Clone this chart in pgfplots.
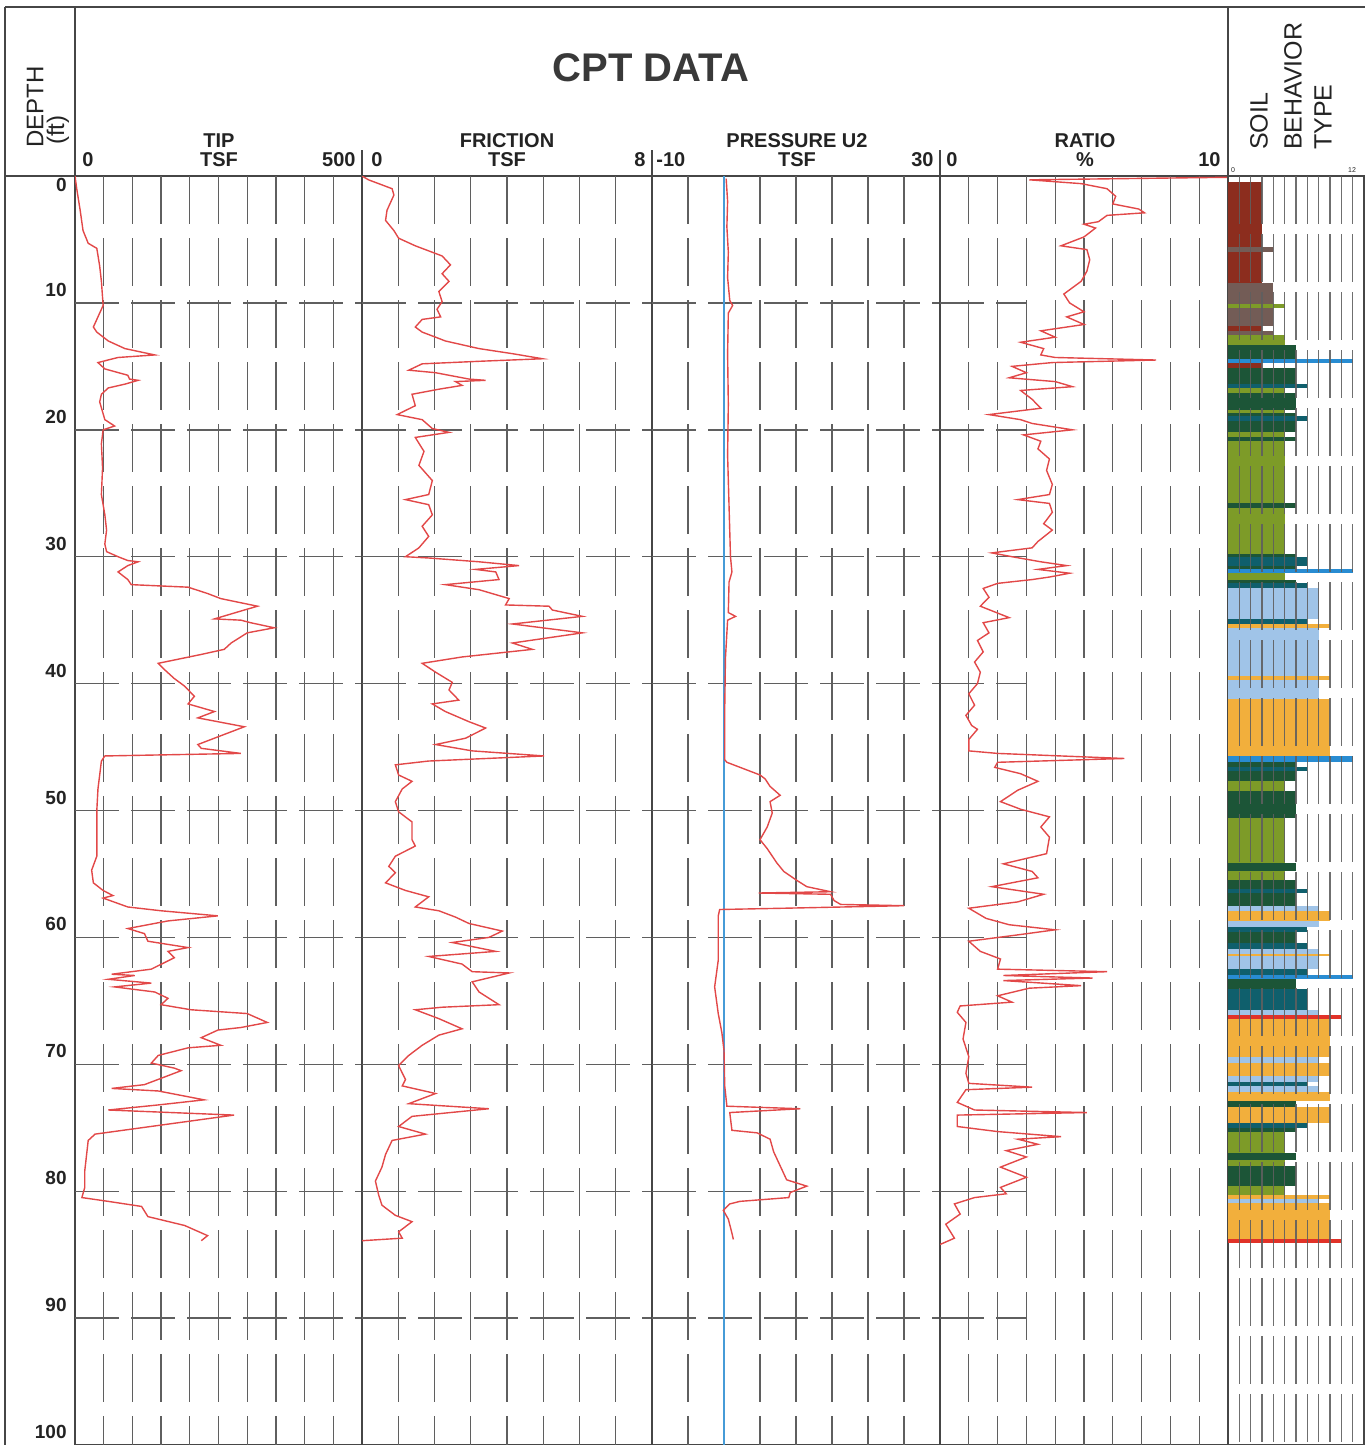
\documentclass[border=0pt]{standalone}
\usepackage{pgfplots}
\pgfplotsset{compat=1.18}
\usepackage{fontspec}
\setmainfont{Liberation Sans}
\definecolor{trace}{RGB}{226,72,72}
\definecolor{uzero}{RGB}{70,155,215}
\definecolor{gl}{RGB}{95,95,95}
\definecolor{frm}{RGB}{70,70,70}
\definecolor{txt}{RGB}{35,35,35}
\definecolor{zC}{RGB}{140,45,30}
\definecolor{zD}{RGB}{115,92,86}
\definecolor{zE}{RGB}{125,155,40}
\definecolor{zF}{RGB}{28,85,55}
\definecolor{zG}{RGB}{15,95,108}
\definecolor{zH}{RGB}{160,196,232}
\definecolor{zI}{RGB}{242,175,60}
\definecolor{zJ}{RGB}{225,50,40}
\definecolor{zK}{RGB}{40,140,210}
\tikzset{vgrid/.style={draw=gl, line width=0.65pt, dash pattern=on 24pt off 7pt},
         hgrid/.style={draw=gl, line width=0.7pt, dash pattern=on 22pt off 6pt},
         hl/.style={font=\bfseries\fontsize{10}{12}\selectfont, text=txt, inner sep=0pt}}
\pgfplotsset{panel/.style={scale only axis, height=634.5pt, y dir=reverse, ymin=0, ymax=100,
   axis line style={draw=frm, line width=0.7pt}, ticks=none, anchor=north west},
   trc/.style={color=trace, line width=0.7pt, mark=none}}
\newcommand{\sbt}[4]{\addplot[fill=#1,draw=none,forget plot] coordinates {(0,#3) (#2,#3) (#2,#4) (0,#4)};}
\begin{document}
\begin{tikzpicture}
\useasboundingbox (0,0) rectangle (682.5pt,-722.5pt);
% frame of header
\draw[frm, line width=0.7pt] (2.5pt,-3.5pt) -- (682.5pt,-3.5pt);
\draw[frm, line width=0.7pt] (2.5pt,-3.5pt) -- (2.5pt,-722.5pt);
\draw[frm, line width=0.7pt] (37.5pt,-3.5pt) -- (37.5pt,-88pt);
\draw[frm, line width=0.7pt] (614pt,-3.5pt) -- (614pt,-88pt);
\draw[frm, line width=0.7pt] (2.5pt,-88pt) -- (682.5pt,-88pt);
\foreach \xx in {181,326,470} {\draw[frm, line width=0.7pt] (\xx pt,-75pt) -- (\xx pt,-88pt);}
% header texts
\node[font=\bfseries\fontsize{20}{24}\selectfont, text=txt!90] at (325.5pt,-34pt) {CPT DATA};
\node[rotate=90, anchor=west, font=\fontsize{12}{14}\selectfont, text=txt] at (17.5pt,-77.5pt) {DEPTH};
\node[rotate=90, anchor=west, font=\fontsize{12}{14}\selectfont, text=txt] at (29pt,-76pt) {(ft)};
\node[hl] at (109.5pt,-70.5pt) {TIP};
\node[hl] at (109.5pt,-80pt) {TSF};
\node[hl] at (44pt,-80pt) {0};
\node[hl, anchor=east] at (178pt,-80pt) {500};
\node[hl] at (253.5pt,-70.5pt) {FRICTION};
\node[hl] at (253.5pt,-80pt) {TSF};
\node[hl] at (188.5pt,-80pt) {0};
\node[hl, anchor=east] at (323pt,-80pt) {8};
\node[hl] at (398.5pt,-70.5pt) {PRESSURE U2};
\node[hl] at (398.5pt,-80pt) {TSF};
\node[hl, anchor=west] at (328pt,-80pt) {-10};
\node[hl, anchor=east] at (467pt,-80pt) {30};
\node[hl] at (542.5pt,-70.5pt) {RATIO};
\node[hl] at (542.5pt,-80pt) {\%};
\node[hl] at (476pt,-80pt) {0};
\node[hl, anchor=east] at (610.5pt,-80pt) {10};
\node[rotate=90, anchor=west, font=\fontsize{12.5}{14}\selectfont, text=txt] at (629.5pt,-78.5pt) {SOIL};
\node[rotate=90, anchor=west, font=\fontsize{12.5}{14}\selectfont, text=txt] at (646.5pt,-78.5pt) {BEHAVIOR};
\node[rotate=90, anchor=west, font=\fontsize{12.5}{14}\selectfont, text=txt] at (661.5pt,-78.5pt) {TYPE};
\node[font=\fontsize{3.5}{4}\selectfont, text=txt] at (616.5pt,-85pt) {0};
\node[font=\fontsize{3.5}{4}\selectfont, text=txt] at (676pt,-85pt) {12};
% depth labels
\node[hl, font=\bfseries\fontsize{9.5}{11}\selectfont, anchor=east] at (33.5pt,-92.5pt) {0};
\foreach \dd in {10,20,...,100} {
  \pgfmathsetmacro{\yy}{-(176+12.69*\dd-13)/2}
  \node[hl, font=\bfseries\fontsize{9.5}{11}\selectfont, anchor=east] at (33.5pt,\yy pt) {\dd};
}

% ---------------- TIP ----------------
\begin{axis}[panel, at={(37.5pt,-88pt)}, width=143.5pt, xmin=0, xmax=500]
\pgfplotsinvokeforeach{50,100,...,450}{\draw[vgrid] (axis cs:#1,0) -- (axis cs:#1,100);}
\pgfplotsinvokeforeach{10,20,...,90}{\draw[hgrid] (axis cs:0,#1) -- (axis cs:500,#1);}
\addplot[trc] coordinates {
(0,0) (3,1) (9,2.7) (14,4.3) (23,5.3) (38,5.7) (43,7.1) (46,8.3) (49,10.2) (40,11.1) (32,11.9)
(38,12.3) (58,13) (87,13.6) (139,14.1) (75,14.3) (40,14.7) (52,15.2) (92,15.7) (95,16.0) (110,16.1)
(87,16.4) (58,16.7) (46,17.2) (43,17.8) (52,19.2) (69,19.7) (49,20) (46,21.1) (48,23) (46,25.1)
(52,26.7) (55,27.9) (52,29) (55,29.6) (75,30) (92,30.3) (110,30.4) (92,30.7) (75,31.2) (92,31.8)
(98,32.2) (197,32.4) (231,32.9) (254,33.3) (318,33.9) (295,34.2) (243,34.9) (289,35.0) (306,35.2)
(347,35.6) (300,36) (272,36.8) (260,37.3) (220,37.7) (145,38.4) (156,38.9) (173,39.6) (191,40.2)
(208,41) (197,41.6) (243,42.2) (214,42.7) (295,43.4) (214,44.8) (220,45.1) (289,45.5) (52,45.7)
(46,46.1) (40,48.3) (38,50) (38,53.6) (29,54.7) (32,55.7) (49,56.3) (66,56.7) (49,56.9) (92,57.6)
(150,57.9) (249,58.3) (162,58.7) (92,59.3) (121,59.7) (127,60.3) (197,60.8) (162,61.1) (173,61.6)
(133,62.5) (64,62.9) (104,63.0) (58,63.3) (133,63.6) (69,63.9) (139,64.3) (162,64.8) (150,65.3)
(202,65.7) (300,66) (335,66.7) (289,67.1) (249,67.3) (220,67.9) (254,68.5) (197,68.7) (145,69.3)
(133,69.9) (173,70.3) (185,70.5) (121,71.6) (64,71.9) (145,72.1) (225,72.8) (145,73.2) (58,73.6)
(277,74) (35,75.5) (23,76) (17,78.4) (17,79.7) (12,80.5) (58,80.8) (116,81.2) (127,82) (191,82.7)
(231,83.5) (220,83.9)
};
\end{axis}

% ---------------- FRICTION ----------------
\begin{axis}[panel, at={(181pt,-88pt)}, width=145pt, xmin=0, xmax=8]
\pgfplotsinvokeforeach{1,2,...,7}{\draw[vgrid] (axis cs:#1,0) -- (axis cs:#1,100);}
\pgfplotsinvokeforeach{10,20,...,90}{\draw[hgrid] (axis cs:0,#1) -- (axis cs:8,#1);}
\addplot[trc] coordinates {
(0.0,0) (0.18,0.3) (0.83,1) (0.88,1.5) (0.69,2.7) (0.65,3.5) (0.88,4.3) (1.01,4.9) (1.47,5.5)
(1.84,5.9) (2.21,6.3) (2.44,7) (2.21,7.7) (2.4,8.3) (2.12,9.1) (2.21,9.9) (2.07,10.5) (2.17,11.1)
(1.66,11.3) (1.47,11.9) (1.66,12.3) (2.03,12.7) (2.3,13) (3.23,13.6) (4.15,14) (4.98,14.4)
(3.23,14.6) (1.66,14.8) (1.29,15.3) (2.03,15.5) (2.95,16) (3.41,16.1) (2.58,16.2) (2.76,16.5)
(2.12,16.8) (1.38,17.2) (1.47,18.1) (0.97,18.8) (1.66,19.2) (1.94,19.9) (2.4,20.2) (1.47,20.6)
(1.71,21.7) (1.57,22.8) (1.94,24) (1.84,25.1) (1.2,25.5) (1.84,25.9) (1.94,26.7) (1.66,27.6)
(1.84,28.4) (1.57,29.3) (1.2,30) (1.84,30.1) (3.23,30.4) (4.33,30.7) (3.13,31) (3.69,31.2)
(3.78,31.8) (2.3,32.2) (3.23,32.6) (4.06,33.3) (3.96,33.8) (5.16,33.9) (5.25,34.2) (6.08,34.7)
(4.15,35.3) (6.08,36) (4.15,36.8) (4.7,37.3) (2.76,37.9) (1.66,38.4) (2.03,39.1) (2.49,39.9)
(2.4,40.5) (2.67,41.3) (1.94,41.6) (2.3,42.2) (2.95,43) (3.41,43.5) (2.86,44.3) (2.03,44.8)
(3.04,45.3) (5.02,45.7) (1.84,46.1) (0.92,46.4) (1.01,47.2) (1.38,47.7) (1.11,48.3) (0.92,49.3)
(1.01,50.1) (1.38,50.9) (1.38,52.3) (1.47,52.8) (0.92,53.6) (0.74,54.4) (0.92,54.9) (0.65,55.7)
(1.2,56.3) (1.84,56.8) (1.47,57.6) (2.12,57.9) (2.58,58.4) (2.95,58.9) (3.87,59.5) (3.5,60)
(2.49,60.4) (3.69,61.1) (1.84,61.5) (2.76,62.1) (3.04,62.7) (4.06,62.8) (3.04,63.5) (3.23,64.3)
(3.78,65.3) (2.21,65.5) (1.47,65.7) (2.12,66.4) (2.76,67.2) (2.12,67.7) (1.66,68.5) (1.29,69.3)
(1.01,70.1) (1.2,71.2) (1.11,71.7) (2.03,72.3) (1.29,73.1) (3.5,73.5) (1.38,74.1) (1.01,74.9)
(1.75,75.5) (0.83,76) (0.65,77.1) (0.55,78.1) (0.37,79.2) (0.46,80.3) (0.55,81.1) (0.92,81.9)
(1.38,82.4) (1.01,83.2) (1.11,83.7) (0,83.9)
};
\end{axis}

% ---------------- PRESSURE ----------------
\begin{axis}[panel, at={(326pt,-88pt)}, width=144pt, xmin=-10, xmax=30]
\pgfplotsinvokeforeach{-5,5,10,15,20,25}{\draw[vgrid] (axis cs:#1,0) -- (axis cs:#1,100);}
\pgfplotsinvokeforeach{10,20,...,90}{\draw[hgrid] (axis cs:-10,#1) -- (axis cs:30,#1);}
\addplot[color=uzero, line width=0.9pt, mark=none] coordinates {(0,0) (0,100)};
\addplot[trc] coordinates {
(0.3,0.2) (0.5,2) (0.4,4) (0.6,6) (0.5,8) (0.8,9.8) (1.2,10.2) (0.6,10.8) (0.5,14) (0.6,18)
(0.5,22) (0.7,26) (0.9,30) (1.1,31.2) (0.7,32) (0.6,34.4) (1.6,34.7) (0.5,35) (0.2,38) (0.1,42)
(0.1,46) (0.4,46.2) (2.7,46.7) (5,47.2) (5.7,47.5) (6.4,48.1) (7.8,48.8) (6.4,49.3) (6.7,50.2)
(6,51.3) (5,52.3) (6,53) (7.3,54.1) (8.3,54.8) (10.1,55.5) (11.5,56) (14.8,56.4) (4.8,56.5)
(14.8,56.6) (15.3,57.1) (16.2,57.4) (25,57.5) (8.3,57.7) (-0.6,57.8) (-0.8,58.3) (-0.8,61.8)
(-1.3,63.9) (-0.8,66) (-0.3,67.5) (0,68.9) (0.1,71.7) (0.4,73.3) (10.6,73.5) (0.8,73.8) (1.1,75.2)
(4.6,75.4) (6.4,75.9) (6.9,76.9) (7.8,78) (8.7,79.1) (11.5,79.6) (9.2,80.1) (9,80.5) (2.2,80.8)
(0.8,81) (-0.1,81.5) (0.6,82.2) (1.1,83.3) (1.3,83.8)
};
\end{axis}

% ---------------- RATIO ----------------
\begin{axis}[panel, at={(470pt,-88pt)}, width=144pt, xmin=0, xmax=10]
\pgfplotsinvokeforeach{1,2,...,9}{\draw[vgrid] (axis cs:#1,0) -- (axis cs:#1,100);}
\pgfplotsinvokeforeach{10,20,...,90}{\draw[hgrid] (axis cs:0,#1) -- (axis cs:3,#1);}
\addplot[trc] coordinates {
(10,0.1) (3.1,0.3) (4.9,0.6) (5.8,1) (6.1,1.6) (6,2.2) (6.9,2.6) (7.1,2.9) (5.8,3.1) (5.5,3.6)
(5,3.8) (5.4,4.1) (5,4.8) (4.2,5.5) (5.1,5.8) (5.2,6.6) (5.1,7.5) (4.9,8.3) (4.3,9.3) (4.5,10)
(5,10.7) (4.4,11.1) (5,11.7) (3.5,12.2) (4,12.7) (2.8,13.1) (3.6,13.6) (3.5,14.1) (4,14.3)
(7.5,14.5) (3.9,14.7) (2.5,15) (3,15.5) (2.4,15.9) (4,16.2) (4.6,16.6) (2.8,16.9) (3.2,17.6)
(3.5,18.3) (1.7,18.8) (2.8,19.2) (3.2,19.5) (4.6,20) (2.9,20.4) (3.5,20.9) (3.4,21.5) (3.8,22.3)
(3.7,23.2) (3.9,24.3) (3.8,25.1) (2.7,25.5) (3.8,25.8) (3.9,26.5) (3.6,27.4) (3.9,27.9) (3.4,28.8)
(3.2,29.3) (1.8,29.7) (2.5,30) (3,30.2) (3.5,30.4) (4.4,30.7) (3.4,31) (4.5,31.3) (3.8,31.6)
(3.2,31.8) (2,32.1) (1.5,32.5) (1.7,33.2) (1.4,33.9) (2.4,34.8) (1.5,35.2) (1.7,36) (1.3,36.6)
(1.5,37.5) (1.2,38.3) (1.4,39.1) (1.3,40) (1,40.8) (1.2,41.7) (0.9,42.5) (1.1,43.3) (1.3,43.6)
(1.0,44.4) (1.0,45.3) (2,45.5) (6.4,45.9) (2,46.2) (1.9,46.6) (2.8,47.1) (3.4,47.7) (2.7,48.4)
(2.1,49.3) (2.8,49.9) (3.8,50.5) (3.5,51.3) (3.8,52.1) (3.7,53.4) (2.2,54.2) (3.2,54.8) (3.4,55.3)
(1.8,56) (3.6,56.6) (2.7,57.2) (1,57.7) (1.6,58.5) (2.4,59) (4,59.4) (2.7,59.8) (1,60.3) (1.4,61.1)
(2.1,61.7) (2,62.5) (5.8,62.7) (2.2,63) (5.3,63.2) (2.2,63.4) (4.9,63.8) (3.1,64) (2,64.6)
(2.5,65.1) (0.7,65.4) (0.6,65.9) (0.9,66.7) (0.8,68) (1,69.4) (0.9,70.7) (1,71.5) (3.2,71.8)
(0.9,72) (0.6,73) (1.2,73.6) (5.1,73.8) (0.6,74) (0.6,74.9) (2,75.3) (4.2,75.7) (2.7,75.9)
(3.4,76.3) (2.3,76.8) (3,77.3) (2.1,78.1) (3,78.9) (2.1,79.7) (2.3,80.2) (1.2,80.5) (0.5,81)
(0.7,81.8) (0.2,82.6) (0.5,83.7) (0,84.2)
};
\end{axis}

% ---------------- SBT ----------------
\begin{axis}[panel, at={(614pt,-88pt)}, width=68pt, xmin=0, xmax=12]
\sbt{zC}{3}{0.5}{5.6}
\sbt{zD}{4}{5.6}{6.0}
\sbt{zC}{3}{6.0}{8.4}
\sbt{zD}{4}{8.4}{10.1}
\sbt{zE}{5}{10.1}{10.4}
\sbt{zD}{4}{10.4}{11.8}
\sbt{zC}{3}{11.8}{12.2}
\sbt{zD}{4}{12.2}{12.5}
\sbt{zE}{5}{12.5}{13.3}
\sbt{zF}{6}{13.3}{14.4}
\sbt{zK}{11}{14.4}{14.75}
\sbt{zC}{3}{14.75}{15.1}
\sbt{zF}{6}{15.1}{16.4}
\sbt{zG}{7}{16.4}{16.7}
\sbt{zE}{5}{16.7}{17.1}
\sbt{zF}{6}{17.1}{18.4}
\sbt{zE}{5}{18.4}{18.7}
\sbt{zF}{6}{18.7}{18.9}
\sbt{zG}{7}{18.9}{19.3}
\sbt{zF}{6}{19.3}{20.2}
\sbt{zE}{5}{20.2}{20.6}
\sbt{zF}{6}{20.6}{20.9}
\sbt{zE}{5}{20.9}{25.8}
\sbt{zF}{6}{25.8}{26.2}
\sbt{zE}{5}{26.2}{29.8}
\sbt{zF}{6}{29.8}{30.0}
\sbt{zG}{7}{30.0}{30.7}
\sbt{zF}{6}{30.7}{31.0}
\sbt{zK}{11}{31.0}{31.25}
\sbt{zE}{5}{31.25}{31.8}
\sbt{zF}{6}{31.8}{32.1}
\sbt{zG}{7}{32.1}{32.5}
\sbt{zH}{8}{32.5}{34.9}
\sbt{zG}{7}{34.9}{35.3}
\sbt{zI}{9}{35.3}{35.65}
\sbt{zH}{8}{35.65}{39.4}
\sbt{zI}{9}{39.4}{39.75}
\sbt{zH}{8}{39.75}{41.2}
\sbt{zI}{9}{41.2}{45.7}
\sbt{zK}{11}{45.7}{46.2}
\sbt{zF}{6}{46.2}{46.6}
\sbt{zG}{7}{46.6}{46.9}
\sbt{zF}{6}{46.9}{47.7}
\sbt{zE}{5}{47.7}{48.5}
\sbt{zF}{6}{48.5}{50.6}
\sbt{zE}{5}{50.6}{54.1}
\sbt{zF}{6}{54.1}{54.8}
\sbt{zE}{5}{54.8}{55.5}
\sbt{zF}{6}{55.5}{56.2}
\sbt{zG}{7}{56.2}{56.5}
\sbt{zF}{6}{56.5}{57.5}
\sbt{zH}{8}{57.5}{57.9}
\sbt{zI}{9}{57.9}{58.7}
\sbt{zH}{8}{58.7}{59.2}
\sbt{zG}{7}{59.2}{59.6}
\sbt{zF}{6}{59.6}{60.4}
\sbt{zG}{7}{60.4}{60.9}
\sbt{zH}{8}{60.9}{61.3}
\sbt{zI}{9}{61.3}{61.5}
\sbt{zH}{8}{61.5}{62.5}
\sbt{zG}{7}{62.5}{63.0}
\sbt{zK}{11}{63.0}{63.3}
\sbt{zF}{6}{63.3}{64.1}
\sbt{zG}{7}{64.1}{65.7}
\sbt{zH}{8}{65.7}{66.1}
\sbt{zJ}{10}{66.1}{66.45}
\sbt{zI}{9}{66.45}{69.4}
\sbt{zH}{8}{69.4}{69.9}
\sbt{zI}{9}{69.9}{70.9}
\sbt{zH}{8}{70.9}{71.4}
\sbt{zG}{7}{71.4}{71.7}
\sbt{zH}{8}{71.7}{72.2}
\sbt{zI}{9}{72.2}{72.9}
\sbt{zF}{6}{72.9}{73.4}
\sbt{zI}{9}{73.4}{74.6}
\sbt{zG}{7}{74.6}{75.0}
\sbt{zF}{6}{75.0}{75.3}
\sbt{zE}{5}{75.3}{77.0}
\sbt{zF}{6}{77.0}{77.5}
\sbt{zE}{5}{77.5}{78.0}
\sbt{zF}{6}{78.0}{79.6}
\sbt{zE}{5}{79.6}{80.3}
\sbt{zI}{9}{80.3}{80.6}
\sbt{zH}{8}{80.6}{80.9}
\sbt{zI}{9}{80.9}{83.8}
\sbt{zJ}{10}{83.8}{84.1}
\pgfplotsinvokeforeach{1,2,...,11}{\draw[gl, line width=0.55pt, opacity=0.9, dash pattern=on 24pt off 5pt] (axis cs:#1,0) -- (axis cs:#1,100);}
\end{axis}
\end{tikzpicture}
\end{document}
